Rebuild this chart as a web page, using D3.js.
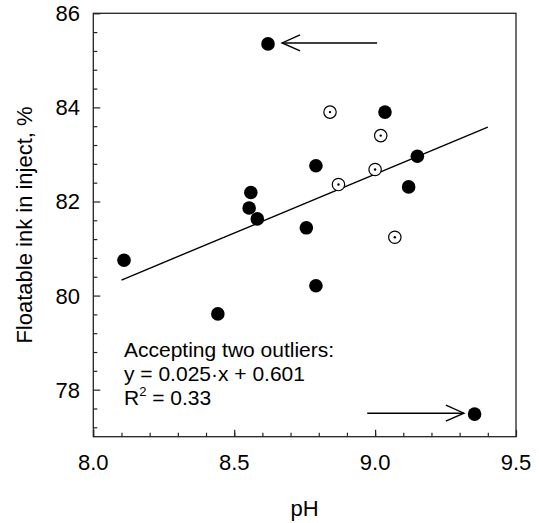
<!DOCTYPE html>
<html lang="en">
<head>
    <meta charset="UTF-8">
    <title>Floatable ink vs pH</title>
    <script src="https://cdnjs.cloudflare.com/ajax/libs/d3/7.8.5/d3.min.js"></script>
    <style type="text/css">
        body {
            margin: 0;
            background: white;
        }
        * {
            font-family: "Liberation Sans", Arial, Helvetica, sans-serif;
        }
    </style>
</head>
<body>
    <div id="chart"></div>
    <script type="text/javascript">

        // Data
        var filledPH  = [8.62, 9.035, 8.79, 9.15, 8.559, 8.553, 8.582, 9.119, 8.756, 8.109, 8.442, 8.79, 9.353];
        var filledInk = [85.35, 83.90, 82.76, 82.96, 82.19, 81.86, 81.63, 82.31, 81.44, 80.75, 79.61, 80.21, 77.48];

        var openPH  = [8.84, 9.02, 9.0, 8.87, 9.07];
        var openInk = [83.90, 83.40, 82.68, 82.36, 81.24];

        // regression line end points
        var fitPH  = [8.1, 9.4];
        var fitInk = [80.33, 83.58];

        // outlier arrows: [fromPH, toPH, ink]
        var arrows = [
            [9.007, 8.67, 85.37],
            [8.972, 9.315, 77.50]
        ];

        var xTicks = [8.0, 8.5, 9.0, 9.5];
        var yTicks = [78, 80, 82, 84, 86];
        var noteLines = ["Accepting two outliers:", "y = 0.025\u00b7x + 0.601", "R2 = 0.33"];

        // Size variables
        var w = 539;
        var h = 523;
        var padL = 93.3, padR = 516, padT = 13.3, padB = 436.7;

        var svg = d3.select("#chart")
            .append("svg")
            .attr("width", w)
            .attr("height", h);

        var xScale = d3.scaleLinear()
            .domain([8.0, 9.5])
            .range([padL, padR]);

        var yScale = d3.scaleLinear()
            .domain([77, 86])
            .range([padB, padT]);

        // minor ticks
        var xMinor = d3.range(81, 95).map(function(d) { return d / 10; });
        var yMinor = d3.range(193, 216).map(function(d) { return d * 0.4; })
            .filter(function(d) { return d > 77.01 && d < 85.99 && Math.abs(d / 2 - Math.round(d / 2)) > 0.01; });

        var xAxisMinor = d3.axisTop(xScale).tickValues(xMinor).tickSize(4).tickFormat("");
        var yAxisMinor = d3.axisRight(yScale).tickValues(yMinor).tickSize(4).tickFormat("");
        var xAxisMajor = d3.axisTop(xScale).tickValues(xTicks).tickSize(7).tickFormat("");
        var yAxisMajor = d3.axisRight(yScale).tickValues(yTicks).tickSize(7).tickFormat("");

        [xAxisMinor, xAxisMajor].forEach(function(ax) {
            svg.append("g")
                .attr("class", "axis")
                .attr("transform", "translate(0," + padB + ")")
                .call(ax);
        });
        [yAxisMinor, yAxisMajor].forEach(function(ax) {
            svg.append("g")
                .attr("class", "axis")
                .attr("transform", "translate(" + padL + ",0)")
                .call(ax);
        });
        svg.selectAll(".axis .domain").remove();
        svg.selectAll(".axis line")
            .attr("stroke", "#222")
            .attr("stroke-width", 1.2);

        // frame
        svg.append("rect")
            .attr("x", padL)
            .attr("y", padT)
            .attr("width", padR - padL)
            .attr("height", padB - padT)
            .attr("fill", "none")
            .attr("stroke", "#222")
            .attr("stroke-width", 1.3);

        // tick labels
        svg.selectAll(".xlabel")
            .data(xTicks)
            .enter()
            .append("text")
            .attr("x", function(d) { return xScale(d); })
            .attr("y", 470)
            .attr("text-anchor", "middle")
            .attr("font-size", "22px")
            .text(function(d) { return d.toFixed(1); });

        svg.selectAll(".ylabel")
            .data(yTicks)
            .enter()
            .append("text")
            .attr("x", 80)
            .attr("y", function(d) { return yScale(d) + 8; })
            .attr("text-anchor", "end")
            .attr("font-size", "22px")
            .text(function(d) { return d; });

        // axis titles
        svg.append("text")
            .attr("x", (padL + padR) / 2)
            .attr("y", 516)
            .attr("text-anchor", "middle")
            .attr("font-size", "22px")
            .text("pH");

        svg.append("text")
            .attr("transform", "translate(32," + ((padT + padB) / 2) + ") rotate(-90)")
            .attr("text-anchor", "middle")
            .attr("font-size", "22px")
            .text("Floatable ink in inject, %");

        // regression line
        var line = d3.line()
            .x(function(d) { return xScale(d[0]); })
            .y(function(d) { return yScale(d[1]); });

        svg.append("path")
            .datum(d3.zip(fitPH, fitInk))
            .attr("d", line)
            .attr("fill", "none")
            .attr("stroke", "black")
            .attr("stroke-width", 1.4);

        // filled points
        svg.selectAll(".filled")
            .data(d3.zip(filledPH, filledInk))
            .enter()
            .append("circle")
            .attr("cx", function(d) { return xScale(d[0]); })
            .attr("cy", function(d) { return yScale(d[1]); })
            .attr("r", 6.8)
            .attr("fill", "black");

        // open points with centre dot
        var openPts = svg.selectAll(".open")
            .data(d3.zip(openPH, openInk))
            .enter()
            .append("g");

        openPts.append("circle")
            .attr("cx", function(d) { return xScale(d[0]); })
            .attr("cy", function(d) { return yScale(d[1]); })
            .attr("r", 6.2)
            .attr("fill", "white")
            .attr("stroke", "black")
            .attr("stroke-width", 1.2);

        openPts.append("circle")
            .attr("cx", function(d) { return xScale(d[0]); })
            .attr("cy", function(d) { return yScale(d[1]); })
            .attr("r", 1.2)
            .attr("fill", "black");

        // arrows
        arrows.forEach(function(a) {
            var x1 = xScale(a[0]), x2 = xScale(a[1]), y = yScale(a[2]);
            var dir = x2 > x1 ? -1 : 1;
            svg.append("line")
                .attr("x1", x1).attr("y1", y)
                .attr("x2", x2).attr("y2", y)
                .attr("stroke", "black")
                .attr("stroke-width", 1.4);
            svg.append("path")
                .attr("d", "M" + (x2 + dir * 18) + "," + (y - 8) + "L" + x2 + "," + y + "L" + (x2 + dir * 18) + "," + (y + 8))
                .attr("fill", "none")
                .attr("stroke", "black")
                .attr("stroke-width", 1.4);
        });

        // annotation
        var note = svg.append("text")
            .attr("x", 124)
            .attr("y", 356.7)
            .attr("font-size", "21px");

        note.append("tspan").attr("x", 124).attr("dy", 0).text(noteLines[0]);
        note.append("tspan").attr("x", 124).attr("dy", 24.5).text(noteLines[1]);
        var r2 = note.append("tspan").attr("x", 124).attr("dy", 24.2).text("R");
        r2.append("tspan").attr("dy", -9).attr("font-size", "13px").text("2");
        note.append("tspan").attr("dy", 9).text(" = 0.33");

    </script>
</body>
</html>
